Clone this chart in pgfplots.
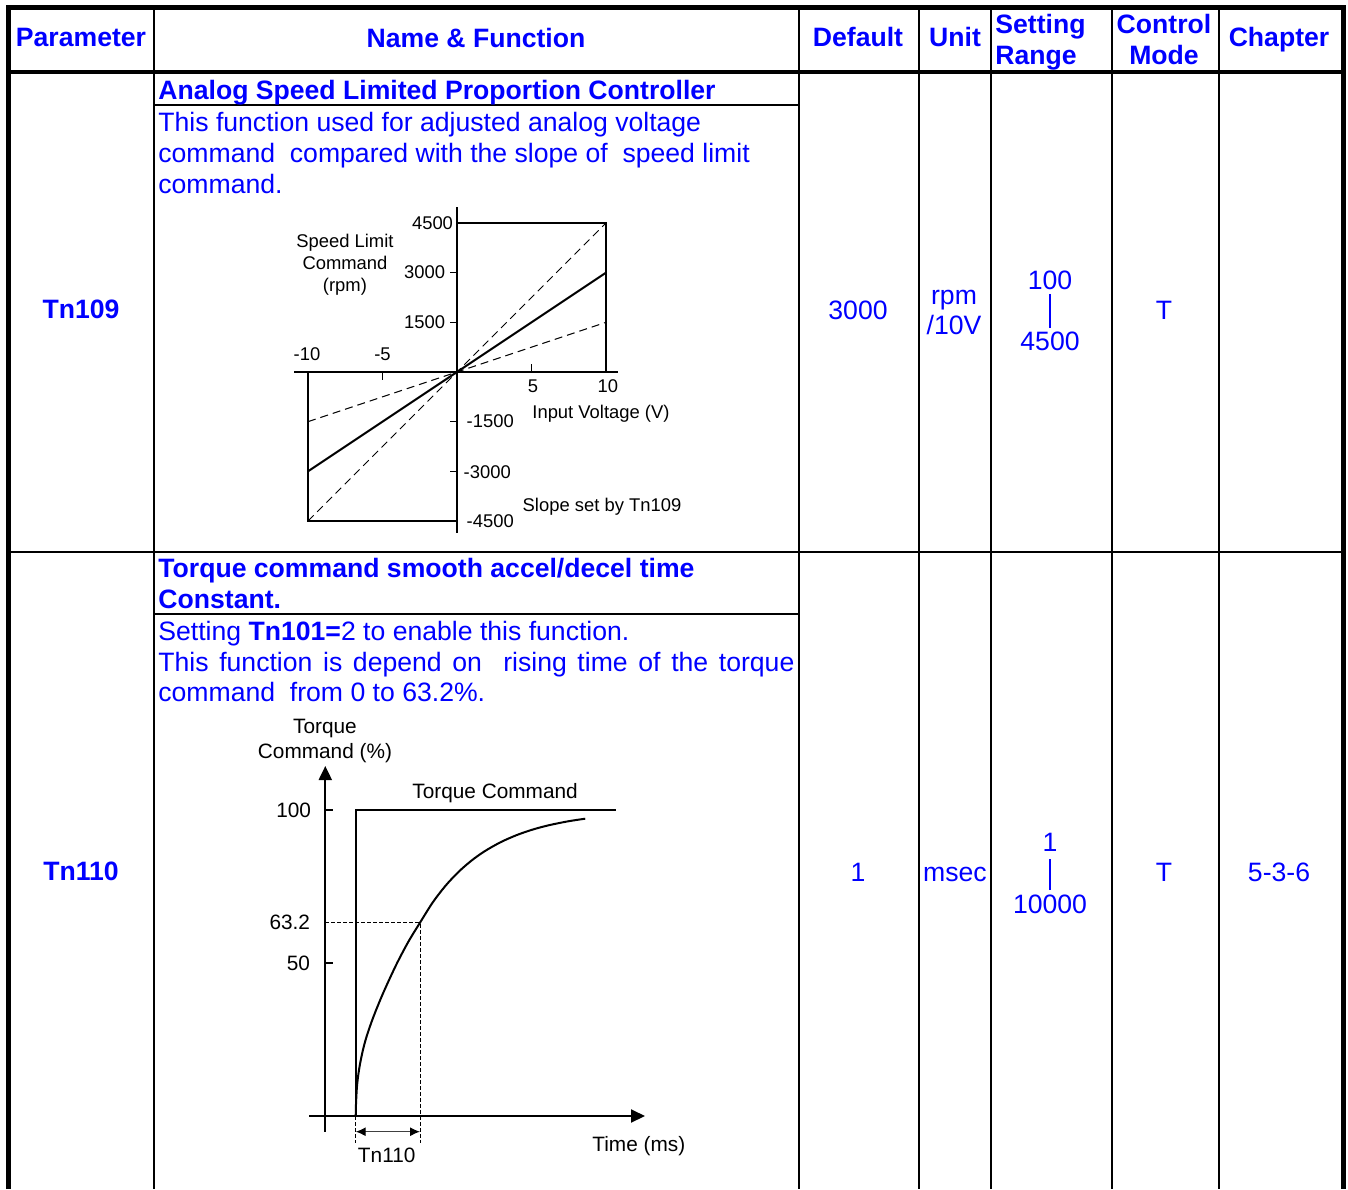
\documentclass[border=0pt]{standalone}
\usepackage{fontspec}
\setmainfont{Liberation Sans}
\usepackage{pgfplots}
\pgfplotsset{compat=1.18}
\usetikzlibrary{arrows.meta}
\definecolor{tblue}{RGB}{0,0,255}
\tikzset{lab/.style={inner sep=0pt,outer sep=0pt}}
\begin{document}
\begin{tikzpicture}
\useasboundingbox (0,0) rectangle (674pt,594.5pt);
\begin{scope}[x=0.5pt,y=-0.5pt,shift={(0,-1189)},
  t/.style={text=tblue,inner sep=0pt,font=\fontsize{13.3}{15.5}\selectfont},
  tb/.style={t,font=\fontsize{13.3}{15.5}\selectfont\bfseries}]
% grid lines
\foreach \xx in {154,799,919,991,1112,1219}{\draw[line width=1.25pt] (\xx,8) -- (\xx,1189);}
\draw[line width=1pt] (154,105) -- (799,105);
\draw[line width=1pt] (154,614) -- (799,614);
\draw[line width=1.25pt] (8,552) -- (1343,552);
\draw[line width=2pt] (8,72) -- (1343,72);
\draw[line width=2.5pt] (8.5,1189) -- (8.5,8) -- (1343,8) -- (1343,1189);
\draw[tblue,line width=1pt] (1049.5,294) -- (1049.5,328);
\draw[tblue,line width=1pt] (1049.5,859) -- (1049.5,890);
% header
\node[tb,anchor=base] at (81,47) {Parameter};
\node[tb,anchor=base] at (476,48) {Name \& Function};
\node[tb,anchor=base] at (858,47) {Default};
\node[tb,anchor=base] at (955,47) {Unit};
\node[tb,anchor=base west] at (995,33.5) {Setting};
\node[tb,anchor=base west] at (995,64.5) {Range};
\node[tb,anchor=base] at (1164,33.5) {Control};
\node[tb,anchor=base] at (1164,64.5) {Mode};
\node[tb,anchor=base] at (1279,47) {Chapter};
% row 1
\node[tb,anchor=base] at (81,319) {Tn109};
\node[tb,anchor=base west] at (158,99.5) {Analog Speed Limited Proportion Controller};
\node[t,anchor=base west] at (158,131.5) {This function used for adjusted analog voltage};
\node[t,anchor=base west] at (158,162.5) {command\ \ compared with the slope of\ \ speed limit};
\node[t,anchor=base west] at (158,193.5) {command.};
\node[t,anchor=base] at (858,320) {3000};
\node[t,anchor=base] at (954,305) {rpm};
\node[t,anchor=base] at (954,335) {/10V};
\node[t,anchor=base] at (1050,290) {100};
\node[t,anchor=base] at (1050,351) {4500};
\node[t,anchor=base] at (1164,320) {T};
% row 2
\node[tb,anchor=base] at (81,881) {Tn110};
\node[tb,anchor=base west] at (158,577.5) {Torque command smooth accel/decel time};
\node[tb,anchor=base west] at (158,608.5) {Constant.};
\node[t,anchor=base west] at (158,640.5) {Setting \textbf{Tn101=}2 to enable this function.};
\node[t,anchor=base west] at (158,671.5) {\makebox[318pt][s]{This function is depend on\ \ rising time of the torque}};
\node[t,anchor=base west] at (158,701.5) {command\ \ from 0 to 63.2\%.};
\node[t,anchor=base] at (858,882) {1};
\node[t,anchor=base] at (955,882) {msec};
\node[t,anchor=base] at (1050,852) {1};
\node[t,anchor=base] at (1050,913) {10000};
\node[t,anchor=base] at (1164,882) {T};
\node[t,anchor=base] at (1279,882) {5-3-6};
\end{scope}

% chart 1: speed limit command
\begin{axis}[at={(147pt,328pt)},anchor=south west,scale only axis,
  width=162pt,height=163pt,
  xmin=-10.94,xmax=10.805,ymin=-4862,ymax=4983,
  axis lines=middle,axis line style={-,line width=0.75pt},
  xtick=\empty,ytick=\empty,clip=false,
  font=\fontsize{9.2}{11}\selectfont]
\addplot[black,mark=none,line width=0.7pt] coordinates {(0,4500) (10,4500) (10,0)};
\addplot[black,mark=none,line width=0.7pt] coordinates {(0,-4500) (-10,-4500) (-10,0)};
\addplot[black,mark=none,line width=1pt] coordinates {(-10,-3000) (10,3000)};
\addplot[black,mark=none,line width=0.5pt,dash pattern=on 4pt off 2.5pt] coordinates {(-10,-4500) (10,4500)};
\addplot[black,mark=none,line width=0.5pt,dash pattern=on 4pt off 2.5pt] coordinates {(-10,-1500) (10,1500)};
\addplot[black,mark=none,line width=0.7pt] coordinates {(-0.47,3000) (0,3000)};
\addplot[black,mark=none,line width=0.7pt] coordinates {(-0.47,1500) (0,1500)};
\addplot[black,mark=none,line width=0.7pt] coordinates {(-0.47,-1500) (0,-1500)};
\addplot[black,mark=none,line width=0.7pt] coordinates {(-0.47,-3000) (0,-3000)};
\addplot[black,mark=none,line width=0.7pt] coordinates {(-5,0) (-5,-242)};
\addplot[black,mark=none,line width=0.7pt] coordinates {(5,0) (5,242)};
\node[lab,anchor=east] at (-0.27,4500) {4500};
\node[lab,anchor=east] at (-0.8,3000) {3000};
\node[lab,anchor=east] at (-0.8,1500) {1500};
\node[lab,anchor=west] at (0.65,-1480) {-1500};
\node[lab,anchor=west] at (0.45,-3020) {-3000};
\node[lab,anchor=west] at (0.65,-4500) {-4500};
\node[lab] at (-10.07,544) {-10};
\node[lab] at (-5.0,544) {-5};
\node[lab] at (5.1,-423) {5};
\node[lab] at (10.13,-423) {10};
\node[lab,align=center] at (-7.52,3232) {Speed Limit\\Command\\(rpm)};
\node[lab] at (9.66,-1268) {Input Voltage (V)};
\node[lab] at (9.73,-4077) {Slope set by Tn109};
\end{axis}

% chart 2: torque command
\begin{axis}[at={(154.5pt,28.65pt)},anchor=south west,scale only axis,
  width=168pt,height=182.85pt,
  xmin=-0.2535,xmax=4.972,ymin=-5.13,ymax=114.4,
  axis lines=middle,
  axis line style={line width=1pt,-{Triangle[length=7pt,width=6.5pt]}},
  xtick=\empty,ytick=\empty,clip=false,
  font=\fontsize{10.4}{12.5}\selectfont]
\addplot[black,mark=none,line width=1pt] coordinates {(0.473,0) (0.473,100) (4.521,100)};
\addplot[black,mark=none,line width=1pt,smooth,tension=0.5] coordinates {
 (0.473,0) (0.476,3) (0.482,6) (0.492,9.5) (0.51,13) (0.54,17) (0.59,22)
 (0.65,26.5) (0.75,32.5) (0.90,40.2) (1.10,49.3) (1.29,56.9) (1.473,63.2)
 (1.673,69.88) (1.873,75.34) (2.073,79.81) (2.273,83.47) (2.473,86.47)
 (2.723,89.46) (2.973,91.79) (3.223,93.61) (3.473,95.02) (3.773,96.31) (4.043,97.18)};
\addplot[black,mark=none,line width=0.5pt,dash pattern=on 2pt off 1pt] coordinates {(0,63.2) (1.473,63.2) (1.473,-8.7)};
\addplot[black,mark=none,line width=0.5pt,dash pattern=on 2pt off 1pt] coordinates {(0.473,0) (0.473,-8.7)};
\addplot[black!75,mark=none,line width=0.6pt,{Latex[length=5pt,width=4.5pt,black]}-{Latex[length=5pt,width=4.5pt,black]}] coordinates {(0.473,-5.13) (1.473,-5.13)};
\addplot[black,mark=none,line width=1pt] coordinates {(0,100) (0.124,100)};
\addplot[black,mark=none,line width=1pt] coordinates {(0,50) (0.124,50)};
\node[lab,anchor=east] at (-0.222,100) {100};
\node[lab,anchor=east] at (-0.238,63.2) {63.2};
\node[lab,anchor=east] at (-0.238,50) {50};
\node[lab,align=center] at (-0.005,122.7) {Torque\\Command (\%)};
\node[lab] at (2.64,105.6) {Torque Command};
\node[lab] at (4.876,-10.0) {Time (ms)};
\node[lab] at (0.955,-12.7) {Tn110};
\end{axis}
\end{tikzpicture}
\end{document}
